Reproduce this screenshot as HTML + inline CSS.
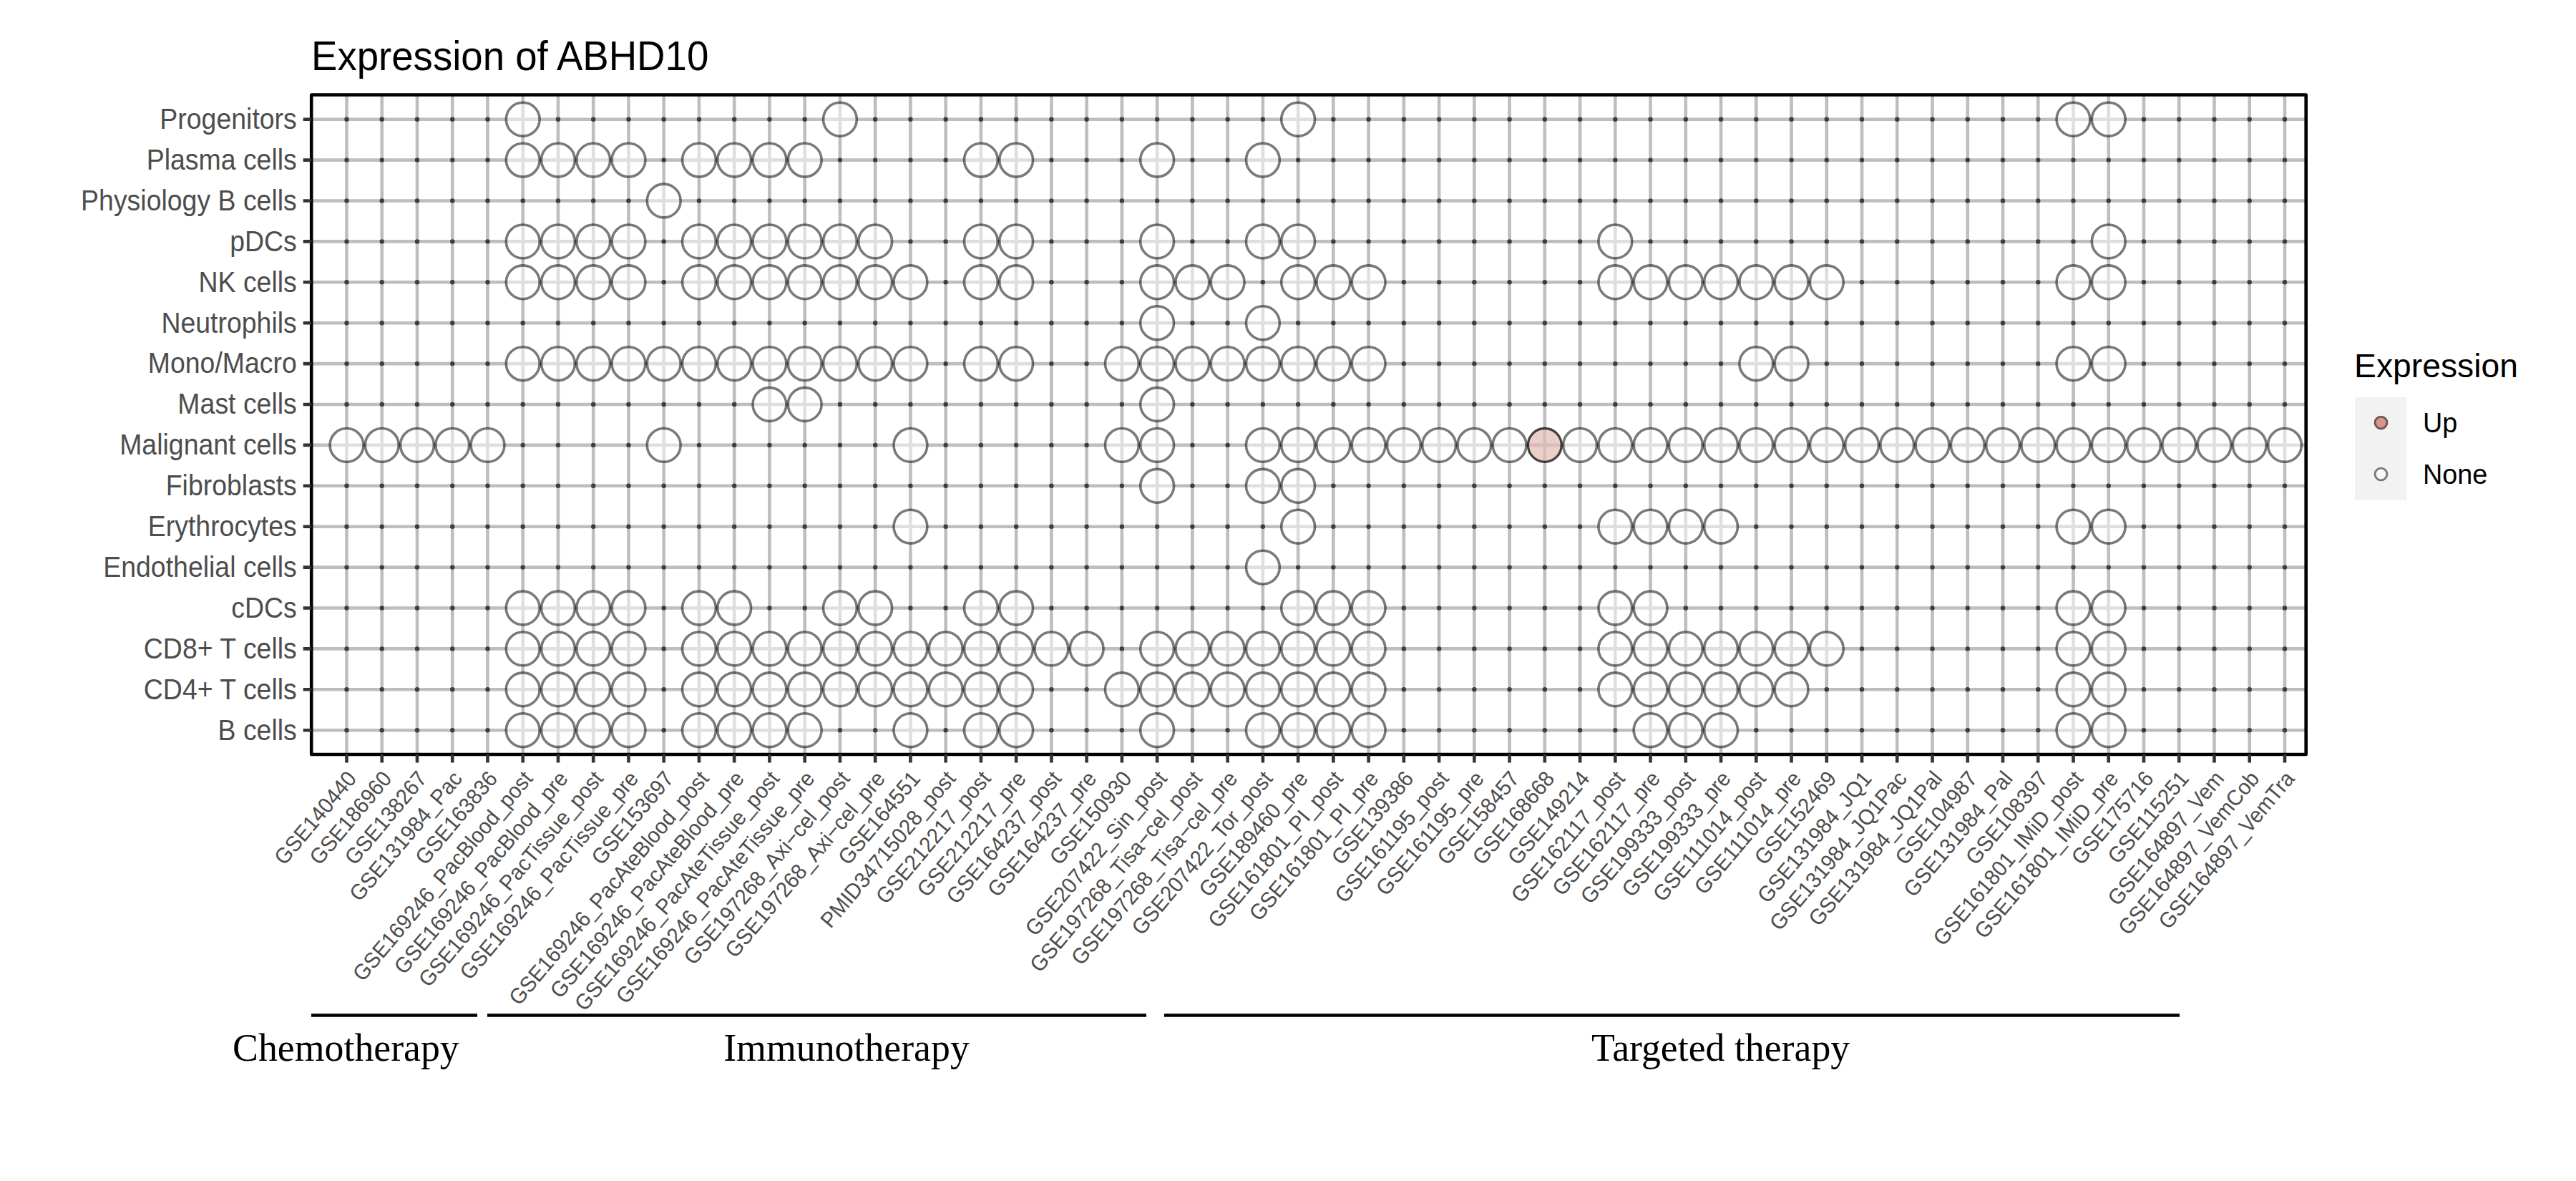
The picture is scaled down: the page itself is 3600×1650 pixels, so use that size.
<!DOCTYPE html><html><head><meta charset="utf-8"><style>html,body{margin:0;padding:0;background:#fff;overflow:hidden}svg{display:block}</style></head><body>
<svg width="3600" height="1650" viewBox="0 0 3600 1650" font-family="Liberation Sans, sans-serif">
<rect width="3600" height="1650" fill="#fff"/>
<text transform="translate(435 98.1) scale(1 1.05)" font-size="54.6" fill="#000">Expression of ABHD10</text>
<path d="M435.2 166.70H3222.7M435.2 223.60H3222.7M435.2 280.50H3222.7M435.2 337.40H3222.7M435.2 394.30H3222.7M435.2 451.20H3222.7M435.2 508.10H3222.7M435.2 565.00H3222.7M435.2 621.90H3222.7M435.2 678.80H3222.7M435.2 735.70H3222.7M435.2 792.60H3222.7M435.2 849.50H3222.7M435.2 906.40H3222.7M435.2 963.30H3222.7M435.2 1020.20H3222.7M484.50 132.5V1054.0M533.75 132.5V1054.0M582.99 132.5V1054.0M632.24 132.5V1054.0M681.48 132.5V1054.0M730.73 132.5V1054.0M779.97 132.5V1054.0M829.21 132.5V1054.0M878.46 132.5V1054.0M927.70 132.5V1054.0M976.95 132.5V1054.0M1026.19 132.5V1054.0M1075.44 132.5V1054.0M1124.68 132.5V1054.0M1173.93 132.5V1054.0M1223.17 132.5V1054.0M1272.42 132.5V1054.0M1321.66 132.5V1054.0M1370.91 132.5V1054.0M1420.15 132.5V1054.0M1469.40 132.5V1054.0M1518.64 132.5V1054.0M1567.89 132.5V1054.0M1617.13 132.5V1054.0M1666.38 132.5V1054.0M1715.62 132.5V1054.0M1764.87 132.5V1054.0M1814.12 132.5V1054.0M1863.36 132.5V1054.0M1912.61 132.5V1054.0M1961.85 132.5V1054.0M2011.10 132.5V1054.0M2060.34 132.5V1054.0M2109.59 132.5V1054.0M2158.83 132.5V1054.0M2208.07 132.5V1054.0M2257.32 132.5V1054.0M2306.56 132.5V1054.0M2355.81 132.5V1054.0M2405.05 132.5V1054.0M2454.30 132.5V1054.0M2503.55 132.5V1054.0M2552.79 132.5V1054.0M2602.03 132.5V1054.0M2651.28 132.5V1054.0M2700.53 132.5V1054.0M2749.77 132.5V1054.0M2799.01 132.5V1054.0M2848.26 132.5V1054.0M2897.50 132.5V1054.0M2946.75 132.5V1054.0M2995.99 132.5V1054.0M3045.24 132.5V1054.0M3094.48 132.5V1054.0M3143.73 132.5V1054.0M3192.97 132.5V1054.0" stroke="#bebebe" stroke-width="4.6" fill="none"/>
<g fill="rgba(0,0,0,0.68)"><circle cx="484.50" cy="166.70" r="3.2"/><circle cx="533.75" cy="166.70" r="3.2"/><circle cx="582.99" cy="166.70" r="3.2"/><circle cx="632.24" cy="166.70" r="3.2"/><circle cx="681.48" cy="166.70" r="3.2"/><circle cx="779.97" cy="166.70" r="3.2"/><circle cx="829.21" cy="166.70" r="3.2"/><circle cx="878.46" cy="166.70" r="3.2"/><circle cx="927.70" cy="166.70" r="3.2"/><circle cx="976.95" cy="166.70" r="3.2"/><circle cx="1026.19" cy="166.70" r="3.2"/><circle cx="1075.44" cy="166.70" r="3.2"/><circle cx="1124.68" cy="166.70" r="3.2"/><circle cx="1223.17" cy="166.70" r="3.2"/><circle cx="1272.42" cy="166.70" r="3.2"/><circle cx="1321.66" cy="166.70" r="3.2"/><circle cx="1370.91" cy="166.70" r="3.2"/><circle cx="1420.15" cy="166.70" r="3.2"/><circle cx="1469.40" cy="166.70" r="3.2"/><circle cx="1518.64" cy="166.70" r="3.2"/><circle cx="1567.89" cy="166.70" r="3.2"/><circle cx="1617.13" cy="166.70" r="3.2"/><circle cx="1666.38" cy="166.70" r="3.2"/><circle cx="1715.62" cy="166.70" r="3.2"/><circle cx="1764.87" cy="166.70" r="3.2"/><circle cx="1863.36" cy="166.70" r="3.2"/><circle cx="1912.61" cy="166.70" r="3.2"/><circle cx="1961.85" cy="166.70" r="3.2"/><circle cx="2011.10" cy="166.70" r="3.2"/><circle cx="2060.34" cy="166.70" r="3.2"/><circle cx="2109.59" cy="166.70" r="3.2"/><circle cx="2158.83" cy="166.70" r="3.2"/><circle cx="2208.07" cy="166.70" r="3.2"/><circle cx="2257.32" cy="166.70" r="3.2"/><circle cx="2306.56" cy="166.70" r="3.2"/><circle cx="2355.81" cy="166.70" r="3.2"/><circle cx="2405.05" cy="166.70" r="3.2"/><circle cx="2454.30" cy="166.70" r="3.2"/><circle cx="2503.55" cy="166.70" r="3.2"/><circle cx="2552.79" cy="166.70" r="3.2"/><circle cx="2602.03" cy="166.70" r="3.2"/><circle cx="2651.28" cy="166.70" r="3.2"/><circle cx="2700.53" cy="166.70" r="3.2"/><circle cx="2749.77" cy="166.70" r="3.2"/><circle cx="2799.01" cy="166.70" r="3.2"/><circle cx="2848.26" cy="166.70" r="3.2"/><circle cx="2995.99" cy="166.70" r="3.2"/><circle cx="3045.24" cy="166.70" r="3.2"/><circle cx="3094.48" cy="166.70" r="3.2"/><circle cx="3143.73" cy="166.70" r="3.2"/><circle cx="3192.97" cy="166.70" r="3.2"/><circle cx="484.50" cy="223.60" r="3.2"/><circle cx="533.75" cy="223.60" r="3.2"/><circle cx="582.99" cy="223.60" r="3.2"/><circle cx="632.24" cy="223.60" r="3.2"/><circle cx="681.48" cy="223.60" r="3.2"/><circle cx="927.70" cy="223.60" r="3.2"/><circle cx="1173.93" cy="223.60" r="3.2"/><circle cx="1223.17" cy="223.60" r="3.2"/><circle cx="1272.42" cy="223.60" r="3.2"/><circle cx="1321.66" cy="223.60" r="3.2"/><circle cx="1469.40" cy="223.60" r="3.2"/><circle cx="1518.64" cy="223.60" r="3.2"/><circle cx="1567.89" cy="223.60" r="3.2"/><circle cx="1666.38" cy="223.60" r="3.2"/><circle cx="1715.62" cy="223.60" r="3.2"/><circle cx="1814.12" cy="223.60" r="3.2"/><circle cx="1863.36" cy="223.60" r="3.2"/><circle cx="1912.61" cy="223.60" r="3.2"/><circle cx="1961.85" cy="223.60" r="3.2"/><circle cx="2011.10" cy="223.60" r="3.2"/><circle cx="2060.34" cy="223.60" r="3.2"/><circle cx="2109.59" cy="223.60" r="3.2"/><circle cx="2158.83" cy="223.60" r="3.2"/><circle cx="2208.07" cy="223.60" r="3.2"/><circle cx="2257.32" cy="223.60" r="3.2"/><circle cx="2306.56" cy="223.60" r="3.2"/><circle cx="2355.81" cy="223.60" r="3.2"/><circle cx="2405.05" cy="223.60" r="3.2"/><circle cx="2454.30" cy="223.60" r="3.2"/><circle cx="2503.55" cy="223.60" r="3.2"/><circle cx="2552.79" cy="223.60" r="3.2"/><circle cx="2602.03" cy="223.60" r="3.2"/><circle cx="2651.28" cy="223.60" r="3.2"/><circle cx="2700.53" cy="223.60" r="3.2"/><circle cx="2749.77" cy="223.60" r="3.2"/><circle cx="2799.01" cy="223.60" r="3.2"/><circle cx="2848.26" cy="223.60" r="3.2"/><circle cx="2897.50" cy="223.60" r="3.2"/><circle cx="2946.75" cy="223.60" r="3.2"/><circle cx="2995.99" cy="223.60" r="3.2"/><circle cx="3045.24" cy="223.60" r="3.2"/><circle cx="3094.48" cy="223.60" r="3.2"/><circle cx="3143.73" cy="223.60" r="3.2"/><circle cx="3192.97" cy="223.60" r="3.2"/><circle cx="484.50" cy="280.50" r="3.2"/><circle cx="533.75" cy="280.50" r="3.2"/><circle cx="582.99" cy="280.50" r="3.2"/><circle cx="632.24" cy="280.50" r="3.2"/><circle cx="681.48" cy="280.50" r="3.2"/><circle cx="730.73" cy="280.50" r="3.2"/><circle cx="779.97" cy="280.50" r="3.2"/><circle cx="829.21" cy="280.50" r="3.2"/><circle cx="878.46" cy="280.50" r="3.2"/><circle cx="976.95" cy="280.50" r="3.2"/><circle cx="1026.19" cy="280.50" r="3.2"/><circle cx="1075.44" cy="280.50" r="3.2"/><circle cx="1124.68" cy="280.50" r="3.2"/><circle cx="1173.93" cy="280.50" r="3.2"/><circle cx="1223.17" cy="280.50" r="3.2"/><circle cx="1272.42" cy="280.50" r="3.2"/><circle cx="1321.66" cy="280.50" r="3.2"/><circle cx="1370.91" cy="280.50" r="3.2"/><circle cx="1420.15" cy="280.50" r="3.2"/><circle cx="1469.40" cy="280.50" r="3.2"/><circle cx="1518.64" cy="280.50" r="3.2"/><circle cx="1567.89" cy="280.50" r="3.2"/><circle cx="1617.13" cy="280.50" r="3.2"/><circle cx="1666.38" cy="280.50" r="3.2"/><circle cx="1715.62" cy="280.50" r="3.2"/><circle cx="1764.87" cy="280.50" r="3.2"/><circle cx="1814.12" cy="280.50" r="3.2"/><circle cx="1863.36" cy="280.50" r="3.2"/><circle cx="1912.61" cy="280.50" r="3.2"/><circle cx="1961.85" cy="280.50" r="3.2"/><circle cx="2011.10" cy="280.50" r="3.2"/><circle cx="2060.34" cy="280.50" r="3.2"/><circle cx="2109.59" cy="280.50" r="3.2"/><circle cx="2158.83" cy="280.50" r="3.2"/><circle cx="2208.07" cy="280.50" r="3.2"/><circle cx="2257.32" cy="280.50" r="3.2"/><circle cx="2306.56" cy="280.50" r="3.2"/><circle cx="2355.81" cy="280.50" r="3.2"/><circle cx="2405.05" cy="280.50" r="3.2"/><circle cx="2454.30" cy="280.50" r="3.2"/><circle cx="2503.55" cy="280.50" r="3.2"/><circle cx="2552.79" cy="280.50" r="3.2"/><circle cx="2602.03" cy="280.50" r="3.2"/><circle cx="2651.28" cy="280.50" r="3.2"/><circle cx="2700.53" cy="280.50" r="3.2"/><circle cx="2749.77" cy="280.50" r="3.2"/><circle cx="2799.01" cy="280.50" r="3.2"/><circle cx="2848.26" cy="280.50" r="3.2"/><circle cx="2897.50" cy="280.50" r="3.2"/><circle cx="2946.75" cy="280.50" r="3.2"/><circle cx="2995.99" cy="280.50" r="3.2"/><circle cx="3045.24" cy="280.50" r="3.2"/><circle cx="3094.48" cy="280.50" r="3.2"/><circle cx="3143.73" cy="280.50" r="3.2"/><circle cx="3192.97" cy="280.50" r="3.2"/><circle cx="484.50" cy="337.40" r="3.2"/><circle cx="533.75" cy="337.40" r="3.2"/><circle cx="582.99" cy="337.40" r="3.2"/><circle cx="632.24" cy="337.40" r="3.2"/><circle cx="681.48" cy="337.40" r="3.2"/><circle cx="927.70" cy="337.40" r="3.2"/><circle cx="1272.42" cy="337.40" r="3.2"/><circle cx="1321.66" cy="337.40" r="3.2"/><circle cx="1469.40" cy="337.40" r="3.2"/><circle cx="1518.64" cy="337.40" r="3.2"/><circle cx="1567.89" cy="337.40" r="3.2"/><circle cx="1666.38" cy="337.40" r="3.2"/><circle cx="1715.62" cy="337.40" r="3.2"/><circle cx="1863.36" cy="337.40" r="3.2"/><circle cx="1912.61" cy="337.40" r="3.2"/><circle cx="1961.85" cy="337.40" r="3.2"/><circle cx="2011.10" cy="337.40" r="3.2"/><circle cx="2060.34" cy="337.40" r="3.2"/><circle cx="2109.59" cy="337.40" r="3.2"/><circle cx="2158.83" cy="337.40" r="3.2"/><circle cx="2208.07" cy="337.40" r="3.2"/><circle cx="2306.56" cy="337.40" r="3.2"/><circle cx="2355.81" cy="337.40" r="3.2"/><circle cx="2405.05" cy="337.40" r="3.2"/><circle cx="2454.30" cy="337.40" r="3.2"/><circle cx="2503.55" cy="337.40" r="3.2"/><circle cx="2552.79" cy="337.40" r="3.2"/><circle cx="2602.03" cy="337.40" r="3.2"/><circle cx="2651.28" cy="337.40" r="3.2"/><circle cx="2700.53" cy="337.40" r="3.2"/><circle cx="2749.77" cy="337.40" r="3.2"/><circle cx="2799.01" cy="337.40" r="3.2"/><circle cx="2848.26" cy="337.40" r="3.2"/><circle cx="2897.50" cy="337.40" r="3.2"/><circle cx="2995.99" cy="337.40" r="3.2"/><circle cx="3045.24" cy="337.40" r="3.2"/><circle cx="3094.48" cy="337.40" r="3.2"/><circle cx="3143.73" cy="337.40" r="3.2"/><circle cx="3192.97" cy="337.40" r="3.2"/><circle cx="484.50" cy="394.30" r="3.2"/><circle cx="533.75" cy="394.30" r="3.2"/><circle cx="582.99" cy="394.30" r="3.2"/><circle cx="632.24" cy="394.30" r="3.2"/><circle cx="681.48" cy="394.30" r="3.2"/><circle cx="927.70" cy="394.30" r="3.2"/><circle cx="1321.66" cy="394.30" r="3.2"/><circle cx="1469.40" cy="394.30" r="3.2"/><circle cx="1518.64" cy="394.30" r="3.2"/><circle cx="1567.89" cy="394.30" r="3.2"/><circle cx="1764.87" cy="394.30" r="3.2"/><circle cx="1961.85" cy="394.30" r="3.2"/><circle cx="2011.10" cy="394.30" r="3.2"/><circle cx="2060.34" cy="394.30" r="3.2"/><circle cx="2109.59" cy="394.30" r="3.2"/><circle cx="2158.83" cy="394.30" r="3.2"/><circle cx="2208.07" cy="394.30" r="3.2"/><circle cx="2602.03" cy="394.30" r="3.2"/><circle cx="2651.28" cy="394.30" r="3.2"/><circle cx="2700.53" cy="394.30" r="3.2"/><circle cx="2749.77" cy="394.30" r="3.2"/><circle cx="2799.01" cy="394.30" r="3.2"/><circle cx="2848.26" cy="394.30" r="3.2"/><circle cx="2995.99" cy="394.30" r="3.2"/><circle cx="3045.24" cy="394.30" r="3.2"/><circle cx="3094.48" cy="394.30" r="3.2"/><circle cx="3143.73" cy="394.30" r="3.2"/><circle cx="3192.97" cy="394.30" r="3.2"/><circle cx="484.50" cy="451.20" r="3.2"/><circle cx="533.75" cy="451.20" r="3.2"/><circle cx="582.99" cy="451.20" r="3.2"/><circle cx="632.24" cy="451.20" r="3.2"/><circle cx="681.48" cy="451.20" r="3.2"/><circle cx="730.73" cy="451.20" r="3.2"/><circle cx="779.97" cy="451.20" r="3.2"/><circle cx="829.21" cy="451.20" r="3.2"/><circle cx="878.46" cy="451.20" r="3.2"/><circle cx="927.70" cy="451.20" r="3.2"/><circle cx="976.95" cy="451.20" r="3.2"/><circle cx="1026.19" cy="451.20" r="3.2"/><circle cx="1075.44" cy="451.20" r="3.2"/><circle cx="1124.68" cy="451.20" r="3.2"/><circle cx="1173.93" cy="451.20" r="3.2"/><circle cx="1223.17" cy="451.20" r="3.2"/><circle cx="1272.42" cy="451.20" r="3.2"/><circle cx="1321.66" cy="451.20" r="3.2"/><circle cx="1370.91" cy="451.20" r="3.2"/><circle cx="1420.15" cy="451.20" r="3.2"/><circle cx="1469.40" cy="451.20" r="3.2"/><circle cx="1518.64" cy="451.20" r="3.2"/><circle cx="1567.89" cy="451.20" r="3.2"/><circle cx="1666.38" cy="451.20" r="3.2"/><circle cx="1715.62" cy="451.20" r="3.2"/><circle cx="1814.12" cy="451.20" r="3.2"/><circle cx="1863.36" cy="451.20" r="3.2"/><circle cx="1912.61" cy="451.20" r="3.2"/><circle cx="1961.85" cy="451.20" r="3.2"/><circle cx="2011.10" cy="451.20" r="3.2"/><circle cx="2060.34" cy="451.20" r="3.2"/><circle cx="2109.59" cy="451.20" r="3.2"/><circle cx="2158.83" cy="451.20" r="3.2"/><circle cx="2208.07" cy="451.20" r="3.2"/><circle cx="2257.32" cy="451.20" r="3.2"/><circle cx="2306.56" cy="451.20" r="3.2"/><circle cx="2355.81" cy="451.20" r="3.2"/><circle cx="2405.05" cy="451.20" r="3.2"/><circle cx="2454.30" cy="451.20" r="3.2"/><circle cx="2503.55" cy="451.20" r="3.2"/><circle cx="2552.79" cy="451.20" r="3.2"/><circle cx="2602.03" cy="451.20" r="3.2"/><circle cx="2651.28" cy="451.20" r="3.2"/><circle cx="2700.53" cy="451.20" r="3.2"/><circle cx="2749.77" cy="451.20" r="3.2"/><circle cx="2799.01" cy="451.20" r="3.2"/><circle cx="2848.26" cy="451.20" r="3.2"/><circle cx="2897.50" cy="451.20" r="3.2"/><circle cx="2946.75" cy="451.20" r="3.2"/><circle cx="2995.99" cy="451.20" r="3.2"/><circle cx="3045.24" cy="451.20" r="3.2"/><circle cx="3094.48" cy="451.20" r="3.2"/><circle cx="3143.73" cy="451.20" r="3.2"/><circle cx="3192.97" cy="451.20" r="3.2"/><circle cx="484.50" cy="508.10" r="3.2"/><circle cx="533.75" cy="508.10" r="3.2"/><circle cx="582.99" cy="508.10" r="3.2"/><circle cx="632.24" cy="508.10" r="3.2"/><circle cx="681.48" cy="508.10" r="3.2"/><circle cx="1321.66" cy="508.10" r="3.2"/><circle cx="1469.40" cy="508.10" r="3.2"/><circle cx="1518.64" cy="508.10" r="3.2"/><circle cx="1961.85" cy="508.10" r="3.2"/><circle cx="2011.10" cy="508.10" r="3.2"/><circle cx="2060.34" cy="508.10" r="3.2"/><circle cx="2109.59" cy="508.10" r="3.2"/><circle cx="2158.83" cy="508.10" r="3.2"/><circle cx="2208.07" cy="508.10" r="3.2"/><circle cx="2257.32" cy="508.10" r="3.2"/><circle cx="2306.56" cy="508.10" r="3.2"/><circle cx="2355.81" cy="508.10" r="3.2"/><circle cx="2405.05" cy="508.10" r="3.2"/><circle cx="2552.79" cy="508.10" r="3.2"/><circle cx="2602.03" cy="508.10" r="3.2"/><circle cx="2651.28" cy="508.10" r="3.2"/><circle cx="2700.53" cy="508.10" r="3.2"/><circle cx="2749.77" cy="508.10" r="3.2"/><circle cx="2799.01" cy="508.10" r="3.2"/><circle cx="2848.26" cy="508.10" r="3.2"/><circle cx="2995.99" cy="508.10" r="3.2"/><circle cx="3045.24" cy="508.10" r="3.2"/><circle cx="3094.48" cy="508.10" r="3.2"/><circle cx="3143.73" cy="508.10" r="3.2"/><circle cx="3192.97" cy="508.10" r="3.2"/><circle cx="484.50" cy="565.00" r="3.2"/><circle cx="533.75" cy="565.00" r="3.2"/><circle cx="582.99" cy="565.00" r="3.2"/><circle cx="632.24" cy="565.00" r="3.2"/><circle cx="681.48" cy="565.00" r="3.2"/><circle cx="730.73" cy="565.00" r="3.2"/><circle cx="779.97" cy="565.00" r="3.2"/><circle cx="829.21" cy="565.00" r="3.2"/><circle cx="878.46" cy="565.00" r="3.2"/><circle cx="927.70" cy="565.00" r="3.2"/><circle cx="976.95" cy="565.00" r="3.2"/><circle cx="1026.19" cy="565.00" r="3.2"/><circle cx="1173.93" cy="565.00" r="3.2"/><circle cx="1223.17" cy="565.00" r="3.2"/><circle cx="1272.42" cy="565.00" r="3.2"/><circle cx="1321.66" cy="565.00" r="3.2"/><circle cx="1370.91" cy="565.00" r="3.2"/><circle cx="1420.15" cy="565.00" r="3.2"/><circle cx="1469.40" cy="565.00" r="3.2"/><circle cx="1518.64" cy="565.00" r="3.2"/><circle cx="1567.89" cy="565.00" r="3.2"/><circle cx="1666.38" cy="565.00" r="3.2"/><circle cx="1715.62" cy="565.00" r="3.2"/><circle cx="1764.87" cy="565.00" r="3.2"/><circle cx="1814.12" cy="565.00" r="3.2"/><circle cx="1863.36" cy="565.00" r="3.2"/><circle cx="1912.61" cy="565.00" r="3.2"/><circle cx="1961.85" cy="565.00" r="3.2"/><circle cx="2011.10" cy="565.00" r="3.2"/><circle cx="2060.34" cy="565.00" r="3.2"/><circle cx="2109.59" cy="565.00" r="3.2"/><circle cx="2158.83" cy="565.00" r="3.2"/><circle cx="2208.07" cy="565.00" r="3.2"/><circle cx="2257.32" cy="565.00" r="3.2"/><circle cx="2306.56" cy="565.00" r="3.2"/><circle cx="2355.81" cy="565.00" r="3.2"/><circle cx="2405.05" cy="565.00" r="3.2"/><circle cx="2454.30" cy="565.00" r="3.2"/><circle cx="2503.55" cy="565.00" r="3.2"/><circle cx="2552.79" cy="565.00" r="3.2"/><circle cx="2602.03" cy="565.00" r="3.2"/><circle cx="2651.28" cy="565.00" r="3.2"/><circle cx="2700.53" cy="565.00" r="3.2"/><circle cx="2749.77" cy="565.00" r="3.2"/><circle cx="2799.01" cy="565.00" r="3.2"/><circle cx="2848.26" cy="565.00" r="3.2"/><circle cx="2897.50" cy="565.00" r="3.2"/><circle cx="2946.75" cy="565.00" r="3.2"/><circle cx="2995.99" cy="565.00" r="3.2"/><circle cx="3045.24" cy="565.00" r="3.2"/><circle cx="3094.48" cy="565.00" r="3.2"/><circle cx="3143.73" cy="565.00" r="3.2"/><circle cx="3192.97" cy="565.00" r="3.2"/><circle cx="730.73" cy="621.90" r="3.2"/><circle cx="779.97" cy="621.90" r="3.2"/><circle cx="829.21" cy="621.90" r="3.2"/><circle cx="878.46" cy="621.90" r="3.2"/><circle cx="976.95" cy="621.90" r="3.2"/><circle cx="1026.19" cy="621.90" r="3.2"/><circle cx="1075.44" cy="621.90" r="3.2"/><circle cx="1124.68" cy="621.90" r="3.2"/><circle cx="1173.93" cy="621.90" r="3.2"/><circle cx="1223.17" cy="621.90" r="3.2"/><circle cx="1321.66" cy="621.90" r="3.2"/><circle cx="1370.91" cy="621.90" r="3.2"/><circle cx="1420.15" cy="621.90" r="3.2"/><circle cx="1469.40" cy="621.90" r="3.2"/><circle cx="1518.64" cy="621.90" r="3.2"/><circle cx="1666.38" cy="621.90" r="3.2"/><circle cx="1715.62" cy="621.90" r="3.2"/><circle cx="484.50" cy="678.80" r="3.2"/><circle cx="533.75" cy="678.80" r="3.2"/><circle cx="582.99" cy="678.80" r="3.2"/><circle cx="632.24" cy="678.80" r="3.2"/><circle cx="681.48" cy="678.80" r="3.2"/><circle cx="730.73" cy="678.80" r="3.2"/><circle cx="779.97" cy="678.80" r="3.2"/><circle cx="829.21" cy="678.80" r="3.2"/><circle cx="878.46" cy="678.80" r="3.2"/><circle cx="927.70" cy="678.80" r="3.2"/><circle cx="976.95" cy="678.80" r="3.2"/><circle cx="1026.19" cy="678.80" r="3.2"/><circle cx="1075.44" cy="678.80" r="3.2"/><circle cx="1124.68" cy="678.80" r="3.2"/><circle cx="1173.93" cy="678.80" r="3.2"/><circle cx="1223.17" cy="678.80" r="3.2"/><circle cx="1272.42" cy="678.80" r="3.2"/><circle cx="1321.66" cy="678.80" r="3.2"/><circle cx="1370.91" cy="678.80" r="3.2"/><circle cx="1420.15" cy="678.80" r="3.2"/><circle cx="1469.40" cy="678.80" r="3.2"/><circle cx="1518.64" cy="678.80" r="3.2"/><circle cx="1567.89" cy="678.80" r="3.2"/><circle cx="1666.38" cy="678.80" r="3.2"/><circle cx="1715.62" cy="678.80" r="3.2"/><circle cx="1863.36" cy="678.80" r="3.2"/><circle cx="1912.61" cy="678.80" r="3.2"/><circle cx="1961.85" cy="678.80" r="3.2"/><circle cx="2011.10" cy="678.80" r="3.2"/><circle cx="2060.34" cy="678.80" r="3.2"/><circle cx="2109.59" cy="678.80" r="3.2"/><circle cx="2158.83" cy="678.80" r="3.2"/><circle cx="2208.07" cy="678.80" r="3.2"/><circle cx="2257.32" cy="678.80" r="3.2"/><circle cx="2306.56" cy="678.80" r="3.2"/><circle cx="2355.81" cy="678.80" r="3.2"/><circle cx="2405.05" cy="678.80" r="3.2"/><circle cx="2454.30" cy="678.80" r="3.2"/><circle cx="2503.55" cy="678.80" r="3.2"/><circle cx="2552.79" cy="678.80" r="3.2"/><circle cx="2602.03" cy="678.80" r="3.2"/><circle cx="2651.28" cy="678.80" r="3.2"/><circle cx="2700.53" cy="678.80" r="3.2"/><circle cx="2749.77" cy="678.80" r="3.2"/><circle cx="2799.01" cy="678.80" r="3.2"/><circle cx="2848.26" cy="678.80" r="3.2"/><circle cx="2897.50" cy="678.80" r="3.2"/><circle cx="2946.75" cy="678.80" r="3.2"/><circle cx="2995.99" cy="678.80" r="3.2"/><circle cx="3045.24" cy="678.80" r="3.2"/><circle cx="3094.48" cy="678.80" r="3.2"/><circle cx="3143.73" cy="678.80" r="3.2"/><circle cx="3192.97" cy="678.80" r="3.2"/><circle cx="484.50" cy="735.70" r="3.2"/><circle cx="533.75" cy="735.70" r="3.2"/><circle cx="582.99" cy="735.70" r="3.2"/><circle cx="632.24" cy="735.70" r="3.2"/><circle cx="681.48" cy="735.70" r="3.2"/><circle cx="730.73" cy="735.70" r="3.2"/><circle cx="779.97" cy="735.70" r="3.2"/><circle cx="829.21" cy="735.70" r="3.2"/><circle cx="878.46" cy="735.70" r="3.2"/><circle cx="927.70" cy="735.70" r="3.2"/><circle cx="976.95" cy="735.70" r="3.2"/><circle cx="1026.19" cy="735.70" r="3.2"/><circle cx="1075.44" cy="735.70" r="3.2"/><circle cx="1124.68" cy="735.70" r="3.2"/><circle cx="1173.93" cy="735.70" r="3.2"/><circle cx="1223.17" cy="735.70" r="3.2"/><circle cx="1321.66" cy="735.70" r="3.2"/><circle cx="1370.91" cy="735.70" r="3.2"/><circle cx="1420.15" cy="735.70" r="3.2"/><circle cx="1469.40" cy="735.70" r="3.2"/><circle cx="1518.64" cy="735.70" r="3.2"/><circle cx="1567.89" cy="735.70" r="3.2"/><circle cx="1617.13" cy="735.70" r="3.2"/><circle cx="1666.38" cy="735.70" r="3.2"/><circle cx="1715.62" cy="735.70" r="3.2"/><circle cx="1764.87" cy="735.70" r="3.2"/><circle cx="1863.36" cy="735.70" r="3.2"/><circle cx="1912.61" cy="735.70" r="3.2"/><circle cx="1961.85" cy="735.70" r="3.2"/><circle cx="2011.10" cy="735.70" r="3.2"/><circle cx="2060.34" cy="735.70" r="3.2"/><circle cx="2109.59" cy="735.70" r="3.2"/><circle cx="2158.83" cy="735.70" r="3.2"/><circle cx="2208.07" cy="735.70" r="3.2"/><circle cx="2454.30" cy="735.70" r="3.2"/><circle cx="2503.55" cy="735.70" r="3.2"/><circle cx="2552.79" cy="735.70" r="3.2"/><circle cx="2602.03" cy="735.70" r="3.2"/><circle cx="2651.28" cy="735.70" r="3.2"/><circle cx="2700.53" cy="735.70" r="3.2"/><circle cx="2749.77" cy="735.70" r="3.2"/><circle cx="2799.01" cy="735.70" r="3.2"/><circle cx="2848.26" cy="735.70" r="3.2"/><circle cx="2995.99" cy="735.70" r="3.2"/><circle cx="3045.24" cy="735.70" r="3.2"/><circle cx="3094.48" cy="735.70" r="3.2"/><circle cx="3143.73" cy="735.70" r="3.2"/><circle cx="3192.97" cy="735.70" r="3.2"/><circle cx="484.50" cy="792.60" r="3.2"/><circle cx="533.75" cy="792.60" r="3.2"/><circle cx="582.99" cy="792.60" r="3.2"/><circle cx="632.24" cy="792.60" r="3.2"/><circle cx="681.48" cy="792.60" r="3.2"/><circle cx="730.73" cy="792.60" r="3.2"/><circle cx="779.97" cy="792.60" r="3.2"/><circle cx="829.21" cy="792.60" r="3.2"/><circle cx="878.46" cy="792.60" r="3.2"/><circle cx="927.70" cy="792.60" r="3.2"/><circle cx="976.95" cy="792.60" r="3.2"/><circle cx="1026.19" cy="792.60" r="3.2"/><circle cx="1075.44" cy="792.60" r="3.2"/><circle cx="1124.68" cy="792.60" r="3.2"/><circle cx="1173.93" cy="792.60" r="3.2"/><circle cx="1223.17" cy="792.60" r="3.2"/><circle cx="1272.42" cy="792.60" r="3.2"/><circle cx="1321.66" cy="792.60" r="3.2"/><circle cx="1370.91" cy="792.60" r="3.2"/><circle cx="1420.15" cy="792.60" r="3.2"/><circle cx="1469.40" cy="792.60" r="3.2"/><circle cx="1518.64" cy="792.60" r="3.2"/><circle cx="1567.89" cy="792.60" r="3.2"/><circle cx="1617.13" cy="792.60" r="3.2"/><circle cx="1666.38" cy="792.60" r="3.2"/><circle cx="1715.62" cy="792.60" r="3.2"/><circle cx="1814.12" cy="792.60" r="3.2"/><circle cx="1863.36" cy="792.60" r="3.2"/><circle cx="1912.61" cy="792.60" r="3.2"/><circle cx="1961.85" cy="792.60" r="3.2"/><circle cx="2011.10" cy="792.60" r="3.2"/><circle cx="2060.34" cy="792.60" r="3.2"/><circle cx="2109.59" cy="792.60" r="3.2"/><circle cx="2158.83" cy="792.60" r="3.2"/><circle cx="2208.07" cy="792.60" r="3.2"/><circle cx="2257.32" cy="792.60" r="3.2"/><circle cx="2306.56" cy="792.60" r="3.2"/><circle cx="2355.81" cy="792.60" r="3.2"/><circle cx="2405.05" cy="792.60" r="3.2"/><circle cx="2454.30" cy="792.60" r="3.2"/><circle cx="2503.55" cy="792.60" r="3.2"/><circle cx="2552.79" cy="792.60" r="3.2"/><circle cx="2602.03" cy="792.60" r="3.2"/><circle cx="2651.28" cy="792.60" r="3.2"/><circle cx="2700.53" cy="792.60" r="3.2"/><circle cx="2749.77" cy="792.60" r="3.2"/><circle cx="2799.01" cy="792.60" r="3.2"/><circle cx="2848.26" cy="792.60" r="3.2"/><circle cx="2897.50" cy="792.60" r="3.2"/><circle cx="2946.75" cy="792.60" r="3.2"/><circle cx="2995.99" cy="792.60" r="3.2"/><circle cx="3045.24" cy="792.60" r="3.2"/><circle cx="3094.48" cy="792.60" r="3.2"/><circle cx="3143.73" cy="792.60" r="3.2"/><circle cx="3192.97" cy="792.60" r="3.2"/><circle cx="484.50" cy="849.50" r="3.2"/><circle cx="533.75" cy="849.50" r="3.2"/><circle cx="582.99" cy="849.50" r="3.2"/><circle cx="632.24" cy="849.50" r="3.2"/><circle cx="681.48" cy="849.50" r="3.2"/><circle cx="927.70" cy="849.50" r="3.2"/><circle cx="1075.44" cy="849.50" r="3.2"/><circle cx="1124.68" cy="849.50" r="3.2"/><circle cx="1272.42" cy="849.50" r="3.2"/><circle cx="1321.66" cy="849.50" r="3.2"/><circle cx="1469.40" cy="849.50" r="3.2"/><circle cx="1518.64" cy="849.50" r="3.2"/><circle cx="1567.89" cy="849.50" r="3.2"/><circle cx="1617.13" cy="849.50" r="3.2"/><circle cx="1666.38" cy="849.50" r="3.2"/><circle cx="1715.62" cy="849.50" r="3.2"/><circle cx="1764.87" cy="849.50" r="3.2"/><circle cx="1961.85" cy="849.50" r="3.2"/><circle cx="2011.10" cy="849.50" r="3.2"/><circle cx="2060.34" cy="849.50" r="3.2"/><circle cx="2109.59" cy="849.50" r="3.2"/><circle cx="2158.83" cy="849.50" r="3.2"/><circle cx="2208.07" cy="849.50" r="3.2"/><circle cx="2355.81" cy="849.50" r="3.2"/><circle cx="2405.05" cy="849.50" r="3.2"/><circle cx="2454.30" cy="849.50" r="3.2"/><circle cx="2503.55" cy="849.50" r="3.2"/><circle cx="2552.79" cy="849.50" r="3.2"/><circle cx="2602.03" cy="849.50" r="3.2"/><circle cx="2651.28" cy="849.50" r="3.2"/><circle cx="2700.53" cy="849.50" r="3.2"/><circle cx="2749.77" cy="849.50" r="3.2"/><circle cx="2799.01" cy="849.50" r="3.2"/><circle cx="2848.26" cy="849.50" r="3.2"/><circle cx="2995.99" cy="849.50" r="3.2"/><circle cx="3045.24" cy="849.50" r="3.2"/><circle cx="3094.48" cy="849.50" r="3.2"/><circle cx="3143.73" cy="849.50" r="3.2"/><circle cx="3192.97" cy="849.50" r="3.2"/><circle cx="484.50" cy="906.40" r="3.2"/><circle cx="533.75" cy="906.40" r="3.2"/><circle cx="582.99" cy="906.40" r="3.2"/><circle cx="632.24" cy="906.40" r="3.2"/><circle cx="681.48" cy="906.40" r="3.2"/><circle cx="927.70" cy="906.40" r="3.2"/><circle cx="1567.89" cy="906.40" r="3.2"/><circle cx="1961.85" cy="906.40" r="3.2"/><circle cx="2011.10" cy="906.40" r="3.2"/><circle cx="2060.34" cy="906.40" r="3.2"/><circle cx="2109.59" cy="906.40" r="3.2"/><circle cx="2158.83" cy="906.40" r="3.2"/><circle cx="2208.07" cy="906.40" r="3.2"/><circle cx="2602.03" cy="906.40" r="3.2"/><circle cx="2651.28" cy="906.40" r="3.2"/><circle cx="2700.53" cy="906.40" r="3.2"/><circle cx="2749.77" cy="906.40" r="3.2"/><circle cx="2799.01" cy="906.40" r="3.2"/><circle cx="2848.26" cy="906.40" r="3.2"/><circle cx="2995.99" cy="906.40" r="3.2"/><circle cx="3045.24" cy="906.40" r="3.2"/><circle cx="3094.48" cy="906.40" r="3.2"/><circle cx="3143.73" cy="906.40" r="3.2"/><circle cx="3192.97" cy="906.40" r="3.2"/><circle cx="484.50" cy="963.30" r="3.2"/><circle cx="533.75" cy="963.30" r="3.2"/><circle cx="582.99" cy="963.30" r="3.2"/><circle cx="632.24" cy="963.30" r="3.2"/><circle cx="681.48" cy="963.30" r="3.2"/><circle cx="927.70" cy="963.30" r="3.2"/><circle cx="1469.40" cy="963.30" r="3.2"/><circle cx="1518.64" cy="963.30" r="3.2"/><circle cx="1961.85" cy="963.30" r="3.2"/><circle cx="2011.10" cy="963.30" r="3.2"/><circle cx="2060.34" cy="963.30" r="3.2"/><circle cx="2109.59" cy="963.30" r="3.2"/><circle cx="2158.83" cy="963.30" r="3.2"/><circle cx="2208.07" cy="963.30" r="3.2"/><circle cx="2552.79" cy="963.30" r="3.2"/><circle cx="2602.03" cy="963.30" r="3.2"/><circle cx="2651.28" cy="963.30" r="3.2"/><circle cx="2700.53" cy="963.30" r="3.2"/><circle cx="2749.77" cy="963.30" r="3.2"/><circle cx="2799.01" cy="963.30" r="3.2"/><circle cx="2848.26" cy="963.30" r="3.2"/><circle cx="2995.99" cy="963.30" r="3.2"/><circle cx="3045.24" cy="963.30" r="3.2"/><circle cx="3094.48" cy="963.30" r="3.2"/><circle cx="3143.73" cy="963.30" r="3.2"/><circle cx="3192.97" cy="963.30" r="3.2"/><circle cx="484.50" cy="1020.20" r="3.2"/><circle cx="533.75" cy="1020.20" r="3.2"/><circle cx="582.99" cy="1020.20" r="3.2"/><circle cx="632.24" cy="1020.20" r="3.2"/><circle cx="681.48" cy="1020.20" r="3.2"/><circle cx="927.70" cy="1020.20" r="3.2"/><circle cx="1173.93" cy="1020.20" r="3.2"/><circle cx="1223.17" cy="1020.20" r="3.2"/><circle cx="1321.66" cy="1020.20" r="3.2"/><circle cx="1469.40" cy="1020.20" r="3.2"/><circle cx="1518.64" cy="1020.20" r="3.2"/><circle cx="1567.89" cy="1020.20" r="3.2"/><circle cx="1666.38" cy="1020.20" r="3.2"/><circle cx="1715.62" cy="1020.20" r="3.2"/><circle cx="1961.85" cy="1020.20" r="3.2"/><circle cx="2011.10" cy="1020.20" r="3.2"/><circle cx="2060.34" cy="1020.20" r="3.2"/><circle cx="2109.59" cy="1020.20" r="3.2"/><circle cx="2158.83" cy="1020.20" r="3.2"/><circle cx="2208.07" cy="1020.20" r="3.2"/><circle cx="2257.32" cy="1020.20" r="3.2"/><circle cx="2454.30" cy="1020.20" r="3.2"/><circle cx="2503.55" cy="1020.20" r="3.2"/><circle cx="2552.79" cy="1020.20" r="3.2"/><circle cx="2602.03" cy="1020.20" r="3.2"/><circle cx="2651.28" cy="1020.20" r="3.2"/><circle cx="2700.53" cy="1020.20" r="3.2"/><circle cx="2749.77" cy="1020.20" r="3.2"/><circle cx="2799.01" cy="1020.20" r="3.2"/><circle cx="2848.26" cy="1020.20" r="3.2"/><circle cx="2995.99" cy="1020.20" r="3.2"/><circle cx="3045.24" cy="1020.20" r="3.2"/><circle cx="3094.48" cy="1020.20" r="3.2"/><circle cx="3143.73" cy="1020.20" r="3.2"/><circle cx="3192.97" cy="1020.20" r="3.2"/></g>
<g fill="rgba(255,255,255,0.5)" stroke="rgba(0,0,0,0.52)" stroke-width="3.6"><circle cx="730.73" cy="166.70" r="23.4"/><circle cx="1173.93" cy="166.70" r="23.4"/><circle cx="1814.12" cy="166.70" r="23.4"/><circle cx="2897.50" cy="166.70" r="23.4"/><circle cx="2946.75" cy="166.70" r="23.4"/><circle cx="730.73" cy="223.60" r="23.4"/><circle cx="779.97" cy="223.60" r="23.4"/><circle cx="829.21" cy="223.60" r="23.4"/><circle cx="878.46" cy="223.60" r="23.4"/><circle cx="976.95" cy="223.60" r="23.4"/><circle cx="1026.19" cy="223.60" r="23.4"/><circle cx="1075.44" cy="223.60" r="23.4"/><circle cx="1124.68" cy="223.60" r="23.4"/><circle cx="1370.91" cy="223.60" r="23.4"/><circle cx="1420.15" cy="223.60" r="23.4"/><circle cx="1617.13" cy="223.60" r="23.4"/><circle cx="1764.87" cy="223.60" r="23.4"/><circle cx="927.70" cy="280.50" r="23.4"/><circle cx="730.73" cy="337.40" r="23.4"/><circle cx="779.97" cy="337.40" r="23.4"/><circle cx="829.21" cy="337.40" r="23.4"/><circle cx="878.46" cy="337.40" r="23.4"/><circle cx="976.95" cy="337.40" r="23.4"/><circle cx="1026.19" cy="337.40" r="23.4"/><circle cx="1075.44" cy="337.40" r="23.4"/><circle cx="1124.68" cy="337.40" r="23.4"/><circle cx="1173.93" cy="337.40" r="23.4"/><circle cx="1223.17" cy="337.40" r="23.4"/><circle cx="1370.91" cy="337.40" r="23.4"/><circle cx="1420.15" cy="337.40" r="23.4"/><circle cx="1617.13" cy="337.40" r="23.4"/><circle cx="1764.87" cy="337.40" r="23.4"/><circle cx="1814.12" cy="337.40" r="23.4"/><circle cx="2257.32" cy="337.40" r="23.4"/><circle cx="2946.75" cy="337.40" r="23.4"/><circle cx="730.73" cy="394.30" r="23.4"/><circle cx="779.97" cy="394.30" r="23.4"/><circle cx="829.21" cy="394.30" r="23.4"/><circle cx="878.46" cy="394.30" r="23.4"/><circle cx="976.95" cy="394.30" r="23.4"/><circle cx="1026.19" cy="394.30" r="23.4"/><circle cx="1075.44" cy="394.30" r="23.4"/><circle cx="1124.68" cy="394.30" r="23.4"/><circle cx="1173.93" cy="394.30" r="23.4"/><circle cx="1223.17" cy="394.30" r="23.4"/><circle cx="1272.42" cy="394.30" r="23.4"/><circle cx="1370.91" cy="394.30" r="23.4"/><circle cx="1420.15" cy="394.30" r="23.4"/><circle cx="1617.13" cy="394.30" r="23.4"/><circle cx="1666.38" cy="394.30" r="23.4"/><circle cx="1715.62" cy="394.30" r="23.4"/><circle cx="1814.12" cy="394.30" r="23.4"/><circle cx="1863.36" cy="394.30" r="23.4"/><circle cx="1912.61" cy="394.30" r="23.4"/><circle cx="2257.32" cy="394.30" r="23.4"/><circle cx="2306.56" cy="394.30" r="23.4"/><circle cx="2355.81" cy="394.30" r="23.4"/><circle cx="2405.05" cy="394.30" r="23.4"/><circle cx="2454.30" cy="394.30" r="23.4"/><circle cx="2503.55" cy="394.30" r="23.4"/><circle cx="2552.79" cy="394.30" r="23.4"/><circle cx="2897.50" cy="394.30" r="23.4"/><circle cx="2946.75" cy="394.30" r="23.4"/><circle cx="1617.13" cy="451.20" r="23.4"/><circle cx="1764.87" cy="451.20" r="23.4"/><circle cx="730.73" cy="508.10" r="23.4"/><circle cx="779.97" cy="508.10" r="23.4"/><circle cx="829.21" cy="508.10" r="23.4"/><circle cx="878.46" cy="508.10" r="23.4"/><circle cx="927.70" cy="508.10" r="23.4"/><circle cx="976.95" cy="508.10" r="23.4"/><circle cx="1026.19" cy="508.10" r="23.4"/><circle cx="1075.44" cy="508.10" r="23.4"/><circle cx="1124.68" cy="508.10" r="23.4"/><circle cx="1173.93" cy="508.10" r="23.4"/><circle cx="1223.17" cy="508.10" r="23.4"/><circle cx="1272.42" cy="508.10" r="23.4"/><circle cx="1370.91" cy="508.10" r="23.4"/><circle cx="1420.15" cy="508.10" r="23.4"/><circle cx="1567.89" cy="508.10" r="23.4"/><circle cx="1617.13" cy="508.10" r="23.4"/><circle cx="1666.38" cy="508.10" r="23.4"/><circle cx="1715.62" cy="508.10" r="23.4"/><circle cx="1764.87" cy="508.10" r="23.4"/><circle cx="1814.12" cy="508.10" r="23.4"/><circle cx="1863.36" cy="508.10" r="23.4"/><circle cx="1912.61" cy="508.10" r="23.4"/><circle cx="2454.30" cy="508.10" r="23.4"/><circle cx="2503.55" cy="508.10" r="23.4"/><circle cx="2897.50" cy="508.10" r="23.4"/><circle cx="2946.75" cy="508.10" r="23.4"/><circle cx="1075.44" cy="565.00" r="23.4"/><circle cx="1124.68" cy="565.00" r="23.4"/><circle cx="1617.13" cy="565.00" r="23.4"/><circle cx="484.50" cy="621.90" r="23.4"/><circle cx="533.75" cy="621.90" r="23.4"/><circle cx="582.99" cy="621.90" r="23.4"/><circle cx="632.24" cy="621.90" r="23.4"/><circle cx="681.48" cy="621.90" r="23.4"/><circle cx="927.70" cy="621.90" r="23.4"/><circle cx="1272.42" cy="621.90" r="23.4"/><circle cx="1567.89" cy="621.90" r="23.4"/><circle cx="1617.13" cy="621.90" r="23.4"/><circle cx="1764.87" cy="621.90" r="23.4"/><circle cx="1814.12" cy="621.90" r="23.4"/><circle cx="1863.36" cy="621.90" r="23.4"/><circle cx="1912.61" cy="621.90" r="23.4"/><circle cx="1961.85" cy="621.90" r="23.4"/><circle cx="2011.10" cy="621.90" r="23.4"/><circle cx="2060.34" cy="621.90" r="23.4"/><circle cx="2109.59" cy="621.90" r="23.4"/><circle cx="2208.07" cy="621.90" r="23.4"/><circle cx="2257.32" cy="621.90" r="23.4"/><circle cx="2306.56" cy="621.90" r="23.4"/><circle cx="2355.81" cy="621.90" r="23.4"/><circle cx="2405.05" cy="621.90" r="23.4"/><circle cx="2454.30" cy="621.90" r="23.4"/><circle cx="2503.55" cy="621.90" r="23.4"/><circle cx="2552.79" cy="621.90" r="23.4"/><circle cx="2602.03" cy="621.90" r="23.4"/><circle cx="2651.28" cy="621.90" r="23.4"/><circle cx="2700.53" cy="621.90" r="23.4"/><circle cx="2749.77" cy="621.90" r="23.4"/><circle cx="2799.01" cy="621.90" r="23.4"/><circle cx="2848.26" cy="621.90" r="23.4"/><circle cx="2897.50" cy="621.90" r="23.4"/><circle cx="2946.75" cy="621.90" r="23.4"/><circle cx="2995.99" cy="621.90" r="23.4"/><circle cx="3045.24" cy="621.90" r="23.4"/><circle cx="3094.48" cy="621.90" r="23.4"/><circle cx="3143.73" cy="621.90" r="23.4"/><circle cx="3192.97" cy="621.90" r="23.4"/><circle cx="1617.13" cy="678.80" r="23.4"/><circle cx="1764.87" cy="678.80" r="23.4"/><circle cx="1814.12" cy="678.80" r="23.4"/><circle cx="1272.42" cy="735.70" r="23.4"/><circle cx="1814.12" cy="735.70" r="23.4"/><circle cx="2257.32" cy="735.70" r="23.4"/><circle cx="2306.56" cy="735.70" r="23.4"/><circle cx="2355.81" cy="735.70" r="23.4"/><circle cx="2405.05" cy="735.70" r="23.4"/><circle cx="2897.50" cy="735.70" r="23.4"/><circle cx="2946.75" cy="735.70" r="23.4"/><circle cx="1764.87" cy="792.60" r="23.4"/><circle cx="730.73" cy="849.50" r="23.4"/><circle cx="779.97" cy="849.50" r="23.4"/><circle cx="829.21" cy="849.50" r="23.4"/><circle cx="878.46" cy="849.50" r="23.4"/><circle cx="976.95" cy="849.50" r="23.4"/><circle cx="1026.19" cy="849.50" r="23.4"/><circle cx="1173.93" cy="849.50" r="23.4"/><circle cx="1223.17" cy="849.50" r="23.4"/><circle cx="1370.91" cy="849.50" r="23.4"/><circle cx="1420.15" cy="849.50" r="23.4"/><circle cx="1814.12" cy="849.50" r="23.4"/><circle cx="1863.36" cy="849.50" r="23.4"/><circle cx="1912.61" cy="849.50" r="23.4"/><circle cx="2257.32" cy="849.50" r="23.4"/><circle cx="2306.56" cy="849.50" r="23.4"/><circle cx="2897.50" cy="849.50" r="23.4"/><circle cx="2946.75" cy="849.50" r="23.4"/><circle cx="730.73" cy="906.40" r="23.4"/><circle cx="779.97" cy="906.40" r="23.4"/><circle cx="829.21" cy="906.40" r="23.4"/><circle cx="878.46" cy="906.40" r="23.4"/><circle cx="976.95" cy="906.40" r="23.4"/><circle cx="1026.19" cy="906.40" r="23.4"/><circle cx="1075.44" cy="906.40" r="23.4"/><circle cx="1124.68" cy="906.40" r="23.4"/><circle cx="1173.93" cy="906.40" r="23.4"/><circle cx="1223.17" cy="906.40" r="23.4"/><circle cx="1272.42" cy="906.40" r="23.4"/><circle cx="1321.66" cy="906.40" r="23.4"/><circle cx="1370.91" cy="906.40" r="23.4"/><circle cx="1420.15" cy="906.40" r="23.4"/><circle cx="1469.40" cy="906.40" r="23.4"/><circle cx="1518.64" cy="906.40" r="23.4"/><circle cx="1617.13" cy="906.40" r="23.4"/><circle cx="1666.38" cy="906.40" r="23.4"/><circle cx="1715.62" cy="906.40" r="23.4"/><circle cx="1764.87" cy="906.40" r="23.4"/><circle cx="1814.12" cy="906.40" r="23.4"/><circle cx="1863.36" cy="906.40" r="23.4"/><circle cx="1912.61" cy="906.40" r="23.4"/><circle cx="2257.32" cy="906.40" r="23.4"/><circle cx="2306.56" cy="906.40" r="23.4"/><circle cx="2355.81" cy="906.40" r="23.4"/><circle cx="2405.05" cy="906.40" r="23.4"/><circle cx="2454.30" cy="906.40" r="23.4"/><circle cx="2503.55" cy="906.40" r="23.4"/><circle cx="2552.79" cy="906.40" r="23.4"/><circle cx="2897.50" cy="906.40" r="23.4"/><circle cx="2946.75" cy="906.40" r="23.4"/><circle cx="730.73" cy="963.30" r="23.4"/><circle cx="779.97" cy="963.30" r="23.4"/><circle cx="829.21" cy="963.30" r="23.4"/><circle cx="878.46" cy="963.30" r="23.4"/><circle cx="976.95" cy="963.30" r="23.4"/><circle cx="1026.19" cy="963.30" r="23.4"/><circle cx="1075.44" cy="963.30" r="23.4"/><circle cx="1124.68" cy="963.30" r="23.4"/><circle cx="1173.93" cy="963.30" r="23.4"/><circle cx="1223.17" cy="963.30" r="23.4"/><circle cx="1272.42" cy="963.30" r="23.4"/><circle cx="1321.66" cy="963.30" r="23.4"/><circle cx="1370.91" cy="963.30" r="23.4"/><circle cx="1420.15" cy="963.30" r="23.4"/><circle cx="1567.89" cy="963.30" r="23.4"/><circle cx="1617.13" cy="963.30" r="23.4"/><circle cx="1666.38" cy="963.30" r="23.4"/><circle cx="1715.62" cy="963.30" r="23.4"/><circle cx="1764.87" cy="963.30" r="23.4"/><circle cx="1814.12" cy="963.30" r="23.4"/><circle cx="1863.36" cy="963.30" r="23.4"/><circle cx="1912.61" cy="963.30" r="23.4"/><circle cx="2257.32" cy="963.30" r="23.4"/><circle cx="2306.56" cy="963.30" r="23.4"/><circle cx="2355.81" cy="963.30" r="23.4"/><circle cx="2405.05" cy="963.30" r="23.4"/><circle cx="2454.30" cy="963.30" r="23.4"/><circle cx="2503.55" cy="963.30" r="23.4"/><circle cx="2897.50" cy="963.30" r="23.4"/><circle cx="2946.75" cy="963.30" r="23.4"/><circle cx="730.73" cy="1020.20" r="23.4"/><circle cx="779.97" cy="1020.20" r="23.4"/><circle cx="829.21" cy="1020.20" r="23.4"/><circle cx="878.46" cy="1020.20" r="23.4"/><circle cx="976.95" cy="1020.20" r="23.4"/><circle cx="1026.19" cy="1020.20" r="23.4"/><circle cx="1075.44" cy="1020.20" r="23.4"/><circle cx="1124.68" cy="1020.20" r="23.4"/><circle cx="1272.42" cy="1020.20" r="23.4"/><circle cx="1370.91" cy="1020.20" r="23.4"/><circle cx="1420.15" cy="1020.20" r="23.4"/><circle cx="1617.13" cy="1020.20" r="23.4"/><circle cx="1764.87" cy="1020.20" r="23.4"/><circle cx="1814.12" cy="1020.20" r="23.4"/><circle cx="1863.36" cy="1020.20" r="23.4"/><circle cx="1912.61" cy="1020.20" r="23.4"/><circle cx="2306.56" cy="1020.20" r="23.4"/><circle cx="2355.81" cy="1020.20" r="23.4"/><circle cx="2405.05" cy="1020.20" r="23.4"/><circle cx="2897.50" cy="1020.20" r="23.4"/><circle cx="2946.75" cy="1020.20" r="23.4"/></g>
<circle cx="2158.83" cy="621.90" r="23.4" fill="rgba(225,186,181,0.7)" stroke="rgba(0,0,0,0.72)" stroke-width="3.3"/>
<rect x="435.2" y="132.5" width="2787.5" height="921.5" fill="none" stroke="#000" stroke-width="4.6" stroke-linejoin="round"/>
<path d="M423.7 166.70H435.2M423.7 223.60H435.2M423.7 280.50H435.2M423.7 337.40H435.2M423.7 394.30H435.2M423.7 451.20H435.2M423.7 508.10H435.2M423.7 565.00H435.2M423.7 621.90H435.2M423.7 678.80H435.2M423.7 735.70H435.2M423.7 792.60H435.2M423.7 849.50H435.2M423.7 906.40H435.2M423.7 963.30H435.2M423.7 1020.20H435.2M484.50 1054.0V1065.5M533.75 1054.0V1065.5M582.99 1054.0V1065.5M632.24 1054.0V1065.5M681.48 1054.0V1065.5M730.73 1054.0V1065.5M779.97 1054.0V1065.5M829.21 1054.0V1065.5M878.46 1054.0V1065.5M927.70 1054.0V1065.5M976.95 1054.0V1065.5M1026.19 1054.0V1065.5M1075.44 1054.0V1065.5M1124.68 1054.0V1065.5M1173.93 1054.0V1065.5M1223.17 1054.0V1065.5M1272.42 1054.0V1065.5M1321.66 1054.0V1065.5M1370.91 1054.0V1065.5M1420.15 1054.0V1065.5M1469.40 1054.0V1065.5M1518.64 1054.0V1065.5M1567.89 1054.0V1065.5M1617.13 1054.0V1065.5M1666.38 1054.0V1065.5M1715.62 1054.0V1065.5M1764.87 1054.0V1065.5M1814.12 1054.0V1065.5M1863.36 1054.0V1065.5M1912.61 1054.0V1065.5M1961.85 1054.0V1065.5M2011.10 1054.0V1065.5M2060.34 1054.0V1065.5M2109.59 1054.0V1065.5M2158.83 1054.0V1065.5M2208.07 1054.0V1065.5M2257.32 1054.0V1065.5M2306.56 1054.0V1065.5M2355.81 1054.0V1065.5M2405.05 1054.0V1065.5M2454.30 1054.0V1065.5M2503.55 1054.0V1065.5M2552.79 1054.0V1065.5M2602.03 1054.0V1065.5M2651.28 1054.0V1065.5M2700.53 1054.0V1065.5M2749.77 1054.0V1065.5M2799.01 1054.0V1065.5M2848.26 1054.0V1065.5M2897.50 1054.0V1065.5M2946.75 1054.0V1065.5M2995.99 1054.0V1065.5M3045.24 1054.0V1065.5M3094.48 1054.0V1065.5M3143.73 1054.0V1065.5M3192.97 1054.0V1065.5" stroke="#333" stroke-width="4.6" fill="none"/>
<g font-size="37.45" fill="#4d4d4d" text-anchor="end"><text transform="translate(414.8 180.00) scale(1 1.065)">Progenitors</text><text transform="translate(414.8 236.90) scale(1 1.065)">Plasma cells</text><text transform="translate(414.8 293.80) scale(1 1.065)">Physiology B cells</text><text transform="translate(414.8 350.70) scale(1 1.065)">pDCs</text><text transform="translate(414.8 407.60) scale(1 1.065)">NK cells</text><text transform="translate(414.8 464.50) scale(1 1.065)">Neutrophils</text><text transform="translate(414.8 521.40) scale(1 1.065)">Mono/Macro</text><text transform="translate(414.8 578.30) scale(1 1.065)">Mast cells</text><text transform="translate(414.8 635.20) scale(1 1.065)">Malignant cells</text><text transform="translate(414.8 692.10) scale(1 1.065)">Fibroblasts</text><text transform="translate(414.8 749.00) scale(1 1.065)">Erythrocytes</text><text transform="translate(414.8 805.90) scale(1 1.065)">Endothelial cells</text><text transform="translate(414.8 862.80) scale(1 1.065)">cDCs</text><text transform="translate(414.8 919.70) scale(1 1.065)">CD8+ T cells</text><text transform="translate(414.8 976.60) scale(1 1.065)">CD4+ T cells</text><text transform="translate(414.8 1033.50) scale(1 1.065)">B cells</text></g>
<g font-size="29.17" fill="#4d4d4d" text-anchor="end"><text transform="translate(499.70 1088.50) rotate(-50) scale(1 1.05)">GSE140440</text><text transform="translate(548.95 1088.50) rotate(-50) scale(1 1.05)">GSE186960</text><text transform="translate(598.19 1088.50) rotate(-50) scale(1 1.05)">GSE138267</text><text transform="translate(647.44 1088.50) rotate(-50) scale(1 1.05)">GSE131984_Pac</text><text transform="translate(696.68 1088.50) rotate(-50) scale(1 1.05)">GSE163836</text><text transform="translate(745.93 1088.50) rotate(-50) scale(1 1.05)">GSE169246_PacBlood_post</text><text transform="translate(795.17 1088.50) rotate(-50) scale(1 1.05)">GSE169246_PacBlood_pre</text><text transform="translate(844.41 1088.50) rotate(-50) scale(1 1.05)">GSE169246_PacTissue_post</text><text transform="translate(893.66 1088.50) rotate(-50) scale(1 1.05)">GSE169246_PacTissue_pre</text><text transform="translate(942.90 1088.50) rotate(-50) scale(1 1.05)">GSE153697</text><text transform="translate(992.15 1088.50) rotate(-50) scale(1 1.05)">GSE169246_PacAteBlood_post</text><text transform="translate(1041.39 1088.50) rotate(-50) scale(1 1.05)">GSE169246_PacAteBlood_pre</text><text transform="translate(1090.64 1088.50) rotate(-50) scale(1 1.05)">GSE169246_PacAteTissue_post</text><text transform="translate(1139.88 1088.50) rotate(-50) scale(1 1.05)">GSE169246_PacAteTissue_pre</text><text transform="translate(1189.13 1088.50) rotate(-50) scale(1 1.05)">GSE197268_Axi&#8722;cel_post</text><text transform="translate(1238.38 1088.50) rotate(-50) scale(1 1.05)">GSE197268_Axi&#8722;cel_pre</text><text transform="translate(1287.62 1088.50) rotate(-50) scale(1 1.05)">GSE164551</text><text transform="translate(1336.87 1088.50) rotate(-50) scale(1 1.05)">PMID34715028_post</text><text transform="translate(1386.11 1088.50) rotate(-50) scale(1 1.05)">GSE212217_post</text><text transform="translate(1435.36 1088.50) rotate(-50) scale(1 1.05)">GSE212217_pre</text><text transform="translate(1484.60 1088.50) rotate(-50) scale(1 1.05)">GSE164237_post</text><text transform="translate(1533.85 1088.50) rotate(-50) scale(1 1.05)">GSE164237_pre</text><text transform="translate(1583.09 1088.50) rotate(-50) scale(1 1.05)">GSE150930</text><text transform="translate(1632.34 1088.50) rotate(-50) scale(1 1.05)">GSE207422_Sin_post</text><text transform="translate(1681.58 1088.50) rotate(-50) scale(1 1.05)">GSE197268_Tisa&#8722;cel_post</text><text transform="translate(1730.83 1088.50) rotate(-50) scale(1 1.05)">GSE197268_Tisa&#8722;cel_pre</text><text transform="translate(1780.07 1088.50) rotate(-50) scale(1 1.05)">GSE207422_Tor_post</text><text transform="translate(1829.32 1088.50) rotate(-50) scale(1 1.05)">GSE189460_pre</text><text transform="translate(1878.56 1088.50) rotate(-50) scale(1 1.05)">GSE161801_PI_post</text><text transform="translate(1927.81 1088.50) rotate(-50) scale(1 1.05)">GSE161801_PI_pre</text><text transform="translate(1977.05 1088.50) rotate(-50) scale(1 1.05)">GSE139386</text><text transform="translate(2026.30 1088.50) rotate(-50) scale(1 1.05)">GSE161195_post</text><text transform="translate(2075.54 1088.50) rotate(-50) scale(1 1.05)">GSE161195_pre</text><text transform="translate(2124.78 1088.50) rotate(-50) scale(1 1.05)">GSE158457</text><text transform="translate(2174.03 1088.50) rotate(-50) scale(1 1.05)">GSE168668</text><text transform="translate(2223.27 1088.50) rotate(-50) scale(1 1.05)">GSE149214</text><text transform="translate(2272.52 1088.50) rotate(-50) scale(1 1.05)">GSE162117_post</text><text transform="translate(2321.76 1088.50) rotate(-50) scale(1 1.05)">GSE162117_pre</text><text transform="translate(2371.01 1088.50) rotate(-50) scale(1 1.05)">GSE199333_post</text><text transform="translate(2420.25 1088.50) rotate(-50) scale(1 1.05)">GSE199333_pre</text><text transform="translate(2469.50 1088.50) rotate(-50) scale(1 1.05)">GSE111014_post</text><text transform="translate(2518.74 1088.50) rotate(-50) scale(1 1.05)">GSE111014_pre</text><text transform="translate(2567.99 1088.50) rotate(-50) scale(1 1.05)">GSE152469</text><text transform="translate(2617.23 1088.50) rotate(-50) scale(1 1.05)">GSE131984_JQ1</text><text transform="translate(2666.48 1088.50) rotate(-50) scale(1 1.05)">GSE131984_JQ1Pac</text><text transform="translate(2715.72 1088.50) rotate(-50) scale(1 1.05)">GSE131984_JQ1Pal</text><text transform="translate(2764.97 1088.50) rotate(-50) scale(1 1.05)">GSE104987</text><text transform="translate(2814.21 1088.50) rotate(-50) scale(1 1.05)">GSE131984_Pal</text><text transform="translate(2863.46 1088.50) rotate(-50) scale(1 1.05)">GSE108397</text><text transform="translate(2912.70 1088.50) rotate(-50) scale(1 1.05)">GSE161801_IMiD_post</text><text transform="translate(2961.95 1088.50) rotate(-50) scale(1 1.05)">GSE161801_IMiD_pre</text><text transform="translate(3011.19 1088.50) rotate(-50) scale(1 1.05)">GSE175716</text><text transform="translate(3060.44 1088.50) rotate(-50) scale(1 1.05)">GSE115251</text><text transform="translate(3109.68 1088.50) rotate(-50) scale(1 1.05)">GSE164897_Vem</text><text transform="translate(3158.93 1088.50) rotate(-50) scale(1 1.05)">GSE164897_VemCob</text><text transform="translate(3208.17 1088.50) rotate(-50) scale(1 1.05)">GSE164897_VemTra</text></g>
<text x="3290" y="527" font-size="46.3" fill="#000">Expression</text>
<rect x="3291.2" y="555" width="72.2" height="144" fill="#f2f2f2"/>
<circle cx="3327.5" cy="590.5" r="8.4" fill="#d9968c" stroke="#6a5855" stroke-width="2.9"/>
<circle cx="3327.5" cy="662.5" r="8.4" fill="#f8f8f8" stroke="#7a7a7a" stroke-width="2.9"/>
<g font-size="37.8" fill="#000"><text transform="translate(3386 604) scale(1 1.045)">Up</text><text transform="translate(3386 675.5) scale(1 1.045)">None</text></g>
<path d="M435 1418.5H667M681 1418.5H1602M1627 1418.5H3046" stroke="#000" stroke-width="4.6"/>
<g font-family="Liberation Serif, serif" font-size="53.8" fill="#000" text-anchor="middle"><text transform="translate(483.4 1482.3) scale(1 1.025)">Chemotherapy</text><text transform="translate(1183 1482.3) scale(1 1.025)">Immunotherapy</text><text transform="translate(2404.6 1482.3) scale(1 1.025)">Targeted therapy</text></g>
</svg></body></html>
